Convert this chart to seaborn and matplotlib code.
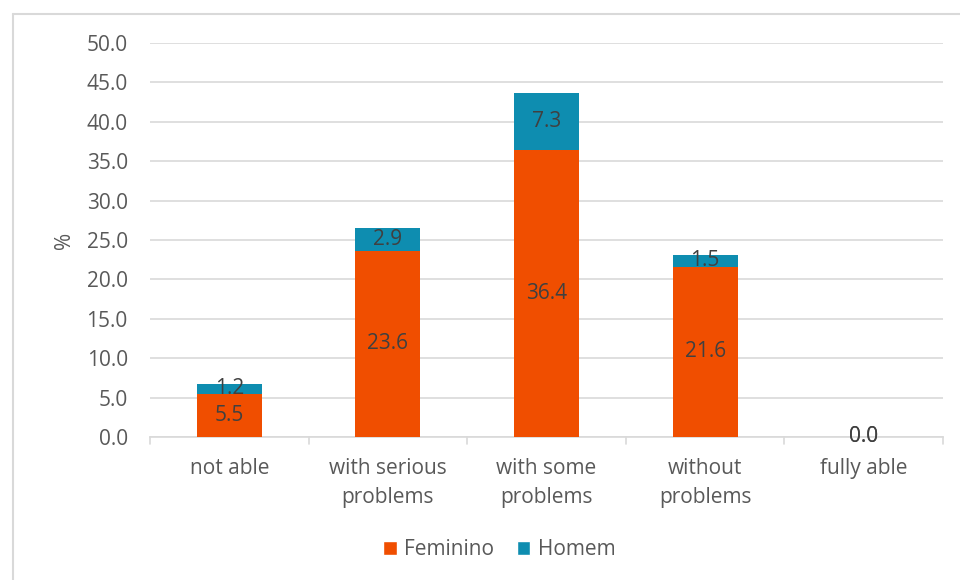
import matplotlib
matplotlib.use("Agg")
import matplotlib.pyplot as plt
from matplotlib.patches import Patch
from matplotlib.lines import Line2D
import seaborn as sns
import pandas as pd

categories = ["not able", "with serious\nproblems", "with some\nproblems",
              "without\nproblems", "fully able"]
feminino = [5.5, 23.6, 36.4, 21.6, 0.0]
homem = [1.2, 2.9, 7.3, 1.5, 0.0]
y_ticks = [0, 5, 10, 15, 20, 25, 30, 35, 40, 45, 50]

ORANGE = "#F04E00"
TEAL = "#0E8DB0"
GRID = "#D9D9D9"
TEXT = "#595959"
LABEL = "#404040"
FS = 15

sns.set_theme(style="white")
plt.rcParams["font.family"] = ["Open Sans", "DejaVu Sans"]

df = pd.DataFrame({"cat": categories, "Feminino": feminino, "Homem": homem})
df["total"] = df["Feminino"] + df["Homem"]

fig = plt.figure(figsize=(9.6, 5.8), dpi=100)
ax = fig.add_axes([0.15625, 0.2466, 0.8261, 0.6793])

sns.barplot(data=df, x="cat", y="total", color=TEAL, width=0.41,
            saturation=1, linewidth=0, ax=ax, zorder=3)
sns.barplot(data=df, x="cat", y="Feminino", color=ORANGE, width=0.41,
            saturation=1, linewidth=0, ax=ax, zorder=3)

for i, (f, h) in enumerate(zip(feminino, homem)):
    ax.text(i, f / 2, f"{f:.1f}", ha="center", va="center",
            fontsize=FS, color=LABEL, zorder=5)
    ax.text(i, f + h / 2, f"{h:.1f}", ha="center", va="center",
            fontsize=FS, color=LABEL, zorder=5)

ax.set_ylim(0, 50)
ax.set_yticks(y_ticks)
ax.set_yticklabels([f"{v:.1f}" for v in y_ticks], fontsize=FS, color=TEXT)
ax.set_xlim(-0.5, len(categories) - 0.5)
ax.set_xticks(range(len(categories)))
ax.set_xticklabels(categories, fontsize=FS, color=TEXT, linespacing=1.5)
ax.set_xlabel("")
ax.set_ylabel("%", fontsize=FS, color=TEXT, labelpad=8)

ax.yaxis.grid(True, color=GRID, linewidth=1.2, zorder=0)
ax.set_axisbelow(True)
for s in ["left", "right", "top"]:
    ax.spines[s].set_visible(False)
ax.spines["bottom"].set_color(GRID)
ax.spines["bottom"].set_linewidth(1.2)
ax.tick_params(axis="y", length=0, pad=16)
ax.tick_params(axis="x", length=0, pad=15)

# category separator ticks below the baseline
for b in [i - 0.5 for i in range(len(categories) + 1)]:
    ax.plot([b, b], [0, -0.018], transform=ax.get_xaxis_transform(),
            color=GRID, linewidth=1.2, clip_on=False, zorder=4)

handles = [Patch(facecolor=ORANGE, label="Feminino"),
           Patch(facecolor=TEAL, label="Homem")]
fig.legend(handles=handles, loc="center", bbox_to_anchor=(0.52, 0.052),
           ncol=2, frameon=False, fontsize=FS, handlelength=0.65,
           handleheight=0.65, handletextpad=0.35, columnspacing=1.1,
           labelcolor=TEXT)

# outer frame
fig.add_artist(Line2D([12.5 / 960, 12.5 / 960], [0, 1 - 13.5 / 580],
                      transform=fig.transFigure, color=GRID, linewidth=1.5))
fig.add_artist(Line2D([12.5 / 960, 1], [1 - 13.5 / 580, 1 - 13.5 / 580],
                      transform=fig.transFigure, color=GRID, linewidth=1.5))

fig.savefig("out.png", dpi=100, facecolor="white")
